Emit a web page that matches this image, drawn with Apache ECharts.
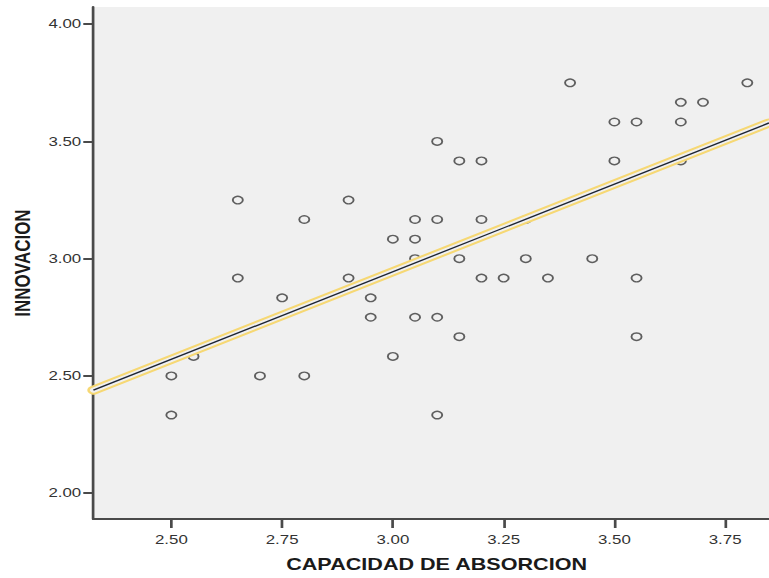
<!DOCTYPE html>
<html>
<head>
<meta charset="utf-8">
<script src="https://cdn.jsdelivr.net/npm/echarts@6/dist/echarts.min.js"></script>
<style>
    html, body { margin: 0; padding: 0; background: #fff; overflow: hidden; }
    /* the reference picture is stretched sideways, so the chart is drawn narrow and widened */
    #chart { width: 570px; height: 578px; transform: scaleX(1.34912); transform-origin: 0 0; }
</style>
</head>
<body>
<div id="chart"></div>
<script>
// CAPACIDAD DE ABSORCION (x) / INNOVACION (y)
var capacidad = [2.50, 2.50, 2.55, 2.65, 2.65, 2.70, 2.75, 2.80, 2.80, 2.90, 2.90, 2.95, 2.95,
    3.00, 3.00, 3.05, 3.05, 3.05, 3.05, 3.10, 3.10, 3.10, 3.10, 3.15, 3.15, 3.15,
    3.20, 3.20, 3.20, 3.25, 3.30, 3.30, 3.35, 3.40, 3.45, 3.50, 3.50, 3.55, 3.55, 3.55,
    3.65, 3.65, 3.65, 3.70, 3.80];
var innovacion = [2.500, 2.333, 2.583, 3.250, 2.917, 2.500, 2.833, 3.167, 2.500, 3.250, 2.917, 2.833, 2.750,
    3.083, 2.583, 3.167, 3.083, 3.000, 2.750, 3.500, 3.167, 2.750, 2.333, 3.417, 3.000, 2.667,
    3.417, 3.167, 2.917, 2.917, 3.167, 3.000, 2.917, 3.750, 3.000, 3.583, 3.417, 3.583, 2.917, 2.667,
    3.667, 3.583, 3.417, 3.667, 3.750];

// recta de ajuste, extremos
var ajusteX = [2.324, 3.849];
var ajusteY = [2.439, 3.579];

var xTicks = [2.50, 2.75, 3.00, 3.25, 3.50, 3.75];
var yTicks = [2.00, 2.50, 3.00, 3.50, 4.00];

var puntos = capacidad.map(function (v, i) { return [v, innovacion[i]]; });
var recta = ajusteX.map(function (v, i) { return [v, ajusteY[i]]; });

var fuente = "'Liberation Sans', Arial, sans-serif";
var chart = echarts.init(document.getElementById('chart'), null, { renderer: 'svg' });

var option = {
    animation: false,
    backgroundColor: '#ffffff',
    grid: {
        left: 65.2,
        right: 0,
        top: 7,
        bottom: 57,
        show: true,
        backgroundColor: '#f0f0f0',
        borderWidth: 0
    },
    xAxis: {
        type: 'value',
        min: 2.324,
        max: 3.849,
        name: 'CAPACIDAD DE ABSORCION',
        nameLocation: 'middle',
        nameGap: 38,
        nameTextStyle: { fontFamily: fuente, fontWeight: 'bold', fontSize: 16, color: '#1a1a1a', padding: [0, 0, 0, 8] },
        axisLine: { show: true, onZero: false, lineStyle: { color: '#4a4a4a', width: 2 } },
        axisTick: { show: true, customValues: xTicks, length: 9, lineStyle: { color: '#4a4a4a', width: 2 } },
        axisLabel: {
            customValues: xTicks,
            margin: 14,
            fontFamily: fuente,
            fontSize: 12.5,
            color: '#333',
            formatter: function (v) { return v.toFixed(2); }
        },
        splitLine: { show: false }
    },
    yAxis: {
        type: 'value',
        min: 1.8895,
        max: 4.0735,
        name: 'INNOVACION',
        nameLocation: 'middle',
        nameGap: 42,
        nameTextStyle: { fontFamily: fuente, fontWeight: 'bold', fontSize: 17, color: '#1a1a1a' },
        axisLine: { show: true, onZero: false, lineStyle: { color: '#4a4a4a', width: 2 } },
        axisTick: { show: true, customValues: yTicks, length: 7.5, lineStyle: { color: '#4a4a4a', width: 2 } },
        axisLabel: {
            customValues: yTicks,
            margin: 9,
            fontFamily: fuente,
            fontSize: 12.5,
            color: '#333',
            formatter: function (v) { return v.toFixed(2); }
        },
        splitLine: { show: false }
    },
    series: [
        {
            type: 'scatter',
            data: puntos,
            symbol: 'circle',
            symbolSize: 7.5,
            itemStyle: { color: 'rgba(0,0,0,0)', borderColor: '#3a3a3a', borderWidth: 1.4 },
            z: 2
        },
        {
            // halo amarillo de la recta
            type: 'line',
            data: recta,
            symbol: 'none',
            clip: false,
            lineStyle: { color: '#f6d874', width: 9, cap: 'round' },
            z: 3
        },
        {
            type: 'line',
            data: recta,
            symbol: 'none',
            clip: false,
            lineStyle: { color: '#f0f0f0', width: 5, cap: 'round' },
            z: 4
        },
        {
            type: 'line',
            data: recta,
            symbol: 'none',
            lineStyle: { color: '#1e2533', width: 1.3 },
            z: 5
        }
    ]
};
chart.setOption(option);
</script>
</body>
</html>
